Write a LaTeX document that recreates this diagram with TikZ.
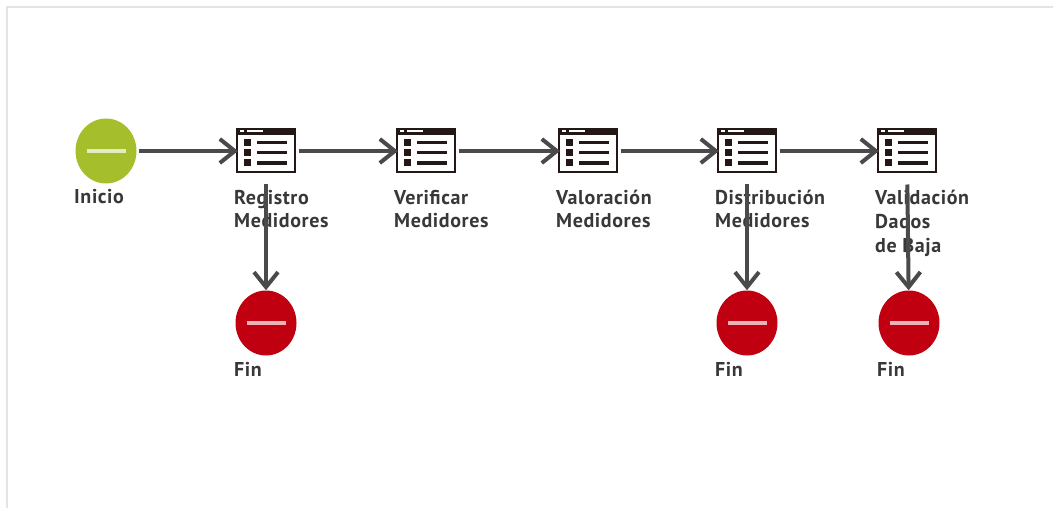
\documentclass[tikz,border=0pt]{standalone}
\usepackage{fontspec}
\setmainfont{PT Sans}[LetterSpace=3]
\usetikzlibrary{arrows.meta,shapes.geometric}
\definecolor{linegrey}{HTML}{4A4A4A}
\definecolor{startgreen}{HTML}{A4BE2C}
\definecolor{endred}{HTML}{C00010}
\definecolor{iconblack}{HTML}{231815}
\definecolor{framegrey}{HTML}{E4E4E4}
\tikzset{
  x=1pt,y=-1pt,
  terminal/.style={ellipse,minimum width=61pt,minimum height=65pt,inner sep=0pt,fill=#1},
  winbox/.style={rectangle,draw=iconblack,line width=2pt,fill=white,minimum width=58pt,minimum height=43pt,inner sep=0pt},
  lbl/.style={anchor=base west,align=left,inner sep=0pt,font=\fontsize{20}{24}\selectfont\bfseries,text=black!78},
  flow/.style={draw=linegrey,line width=4pt,-{Straight Barb[length=15pt,width=24pt,line width=4pt]}},
  hflow/.style={flow,shorten <=2.5pt,shorten >=-2pt},
  vflow/.style={flow,shorten <=11pt,shorten >=0pt},
  bar/.style={draw=white,draw opacity=.7,line width=3.5pt}
}
\newcommand{\winicon}[1]{%
  \fill[iconblack] ([shift={(-30,-22.5)}]#1.center) rectangle ([shift={(30,-16)}]#1.center);
  \fill[white] ([shift={(-26,-21)}]#1.center) rectangle ([shift={(-22.5,-18.5)}]#1.center);
  \fill[white] ([shift={(-19,-21)}]#1.center) rectangle ([shift={(-3,-18.5)}]#1.center);
  \foreach \yy in {-8.5,1.5,12}{
    \fill[iconblack] ([shift={(-22.5,\yy-3.5)}]#1.center) rectangle ([shift={(-15,\yy+3.5)}]#1.center);
    \fill[iconblack] ([shift={(-9,\yy-1.7)}]#1.center) rectangle ([shift={(21,\yy+1.7)}]#1.center);
  }
}
\newcommand{\termbar}[1]{%
  \draw[bar] ([xshift=-19.5pt]#1.center) -- ([xshift=19.5pt]#1.center);
}
\begin{document}
\begin{tikzpicture}
\useasboundingbox (0,0) rectangle (1053,508);
\fill[white] (0,0) rectangle (1053,508);
\draw[framegrey,line width=2pt] (7,508) -- (7,7) -- (1053,7);

\node[terminal=startgreen] (start) at (106,151) {};
\termbar{start}
\node[winbox] (a) at (266,151) {}; \winicon{a}
\node[winbox] (b) at (426,151) {}; \winicon{b}
\node[winbox] (c) at (588,151) {}; \winicon{c}
\node[winbox] (d) at (747,151) {}; \winicon{d}
\node[winbox] (e) at (907,151) {}; \winicon{e}
\node[terminal=endred] (f1) at (266,323) {}; \termbar{f1}
\node[terminal=endred] (f2) at (747,323) {}; \termbar{f2}
\node[terminal=endred] (f3) at (909,323) {}; \termbar{f3}

\node[lbl] (lstart) at (74,204) {Inicio};
\node[lbl] (la) at (234,228) {Registro\\Medidores};
\node[lbl] (lb) at (394,228) {Verificar\\Medidores};
\node[lbl] (lc) at (556,228) {Valoración\\Medidores};
\node[lbl] (ld) at (715,228) {Distribución\\Medidores};
\node[lbl] (le) at (875,252) {Validación\\Dados\\de Baja};
\node[lbl] (lf1) at (234,376) {Fin};
\node[lbl] (lf2) at (715,376) {Fin};
\node[lbl] (lf3) at (877,376) {Fin};

\draw[hflow] (start) -- (a);
\draw[hflow] (a) -- (b);
\draw[hflow] (b) -- (c);
\draw[hflow] (c) -- (d);
\draw[hflow] (d) -- (e);
\draw[vflow] (a) -- (f1);
\draw[vflow] (d) -- (f2);
\draw[vflow] (e) -- (f3);
\end{tikzpicture}
\end{document}
